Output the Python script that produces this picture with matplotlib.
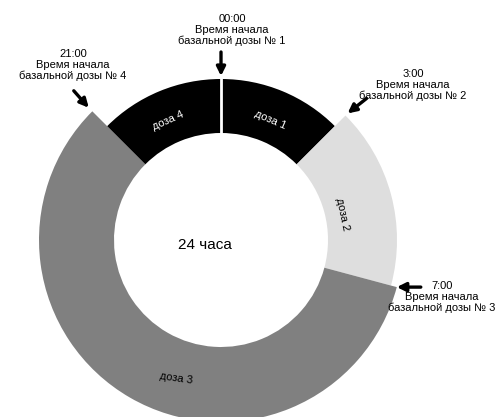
import matplotlib
matplotlib.use('Agg')
import matplotlib.pyplot as plt
import numpy as np

plt.rcParams['font.family'] = ['Liberation Sans', 'DejaVu Sans']

# basal dose schedule (hours of day)
dose_names = ['доза 1', 'доза 2', 'доза 3', 'доза 4']
start_hours = [0, 3, 7, 21]
durations = [3, 4, 14, 3]
outer_r = [161, 176, 182, 161]
inner_r = 107
colors = ['#000000', '#dedede', '#808080', '#000000']
label_colors = ['white', 'black', 'black', 'white']
label_hours = [1.5, 5.2, 13.2, 22.4]
label_r = [130, 124, 145, 131]
label_rot = [-23, -78, -8, 24]

marker_texts = ['00:00\nВремя начала\nбазальной дозы № 1',
                '3:00\nВремя начала\nбазальной дозы № 2',
                '7:00\nВремя начала\nбазальной дозы № 3',
                '21:00\nВремя начала\nбазальной дозы № 4']
marker_hours = [0, 3, 7, 21]
marker_tip_r = [164, 179, 182, 187]
arrow_off = [(0, 24), (19, 15), (24, 0), (-15, 17)]
text_pos = [(232, 30), (413, 85), (442, 297), (73, 65)]

W, H = 502, 417
fig = plt.figure(figsize=(W / 100, H / 100), dpi=100)

def fpx(x, y):
    # pixel from top-left -> figure fraction
    return x / W, 1 - y / H

cx, cy, R = 221, 240, 215
l, b = fpx(cx - R, cy + R)
ax = fig.add_axes([l, b, 2 * R / W, 2 * R / H], projection='polar')
ax.set_theta_zero_location('N')
ax.set_theta_direction(-1)
ax.set_ylim(0, R)
ax.set_xlim(0, 2 * np.pi)
ax.set_axis_off()

to_rad = lambda h: np.asarray(h) * 2 * np.pi / 24

heights = [o - inner_r for o in outer_r]
ax.bar(to_rad(start_hours), heights, width=to_rad(durations), bottom=inner_r,
       align='edge', color=colors, edgecolor='none', linewidth=0)
# white gap between dose 4 and dose 1
ax.plot([0, 0], [inner_r, outer_r[0]], color='white', lw=2)

for name, h, r, rot, c in zip(dose_names, label_hours, label_r, label_rot, label_colors):
    ax.text(to_rad(h), r, name, color=c, fontsize=8, rotation=rot,
            rotation_mode='anchor', ha='center', va='center')

for txt, h, rt, off, tp in zip(marker_texts, marker_hours, marker_tip_r, arrow_off, text_pos):
    ax.annotate('', xy=(to_rad(h), rt), xytext=off, textcoords='offset pixels',
                arrowprops=dict(arrowstyle='-|>', color='black', lw=2.4,
                                mutation_scale=13, shrinkA=0, shrinkB=0))
    fig.text(*fpx(*tp), txt, fontsize=8, ha='center', va='center',
             linespacing=1.05)

fig.text(*fpx(205, 245), '24 часа', fontsize=11, ha='center', va='center')

fig.savefig('out.png', dpi=100)
